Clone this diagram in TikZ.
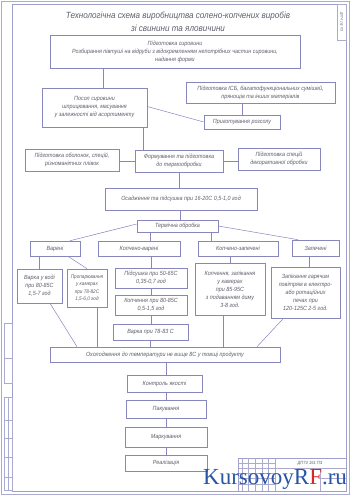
\documentclass[tikz,border=0pt]{standalone}
\usepackage{fontspec}
\setmainfont{Liberation Sans}
\newfontfamily\gost{Liberation Sans}[FakeStretch=0.9]
\newfontfamily\wmfont{Liberation Serif}
\definecolor{linec}{RGB}{135,135,190}
\definecolor{textc}{RGB}{95,95,110}
\definecolor{wmblue}{RGB}{40,85,165}
\definecolor{wmred}{RGB}{215,40,40}
\tikzset{
  box/.style={draw=linec, line width=0.6pt, align=center, inner sep=1pt,
    text=textc, font=\gost\itshape\fontsize{6}{8}\selectfont},
  smallbox/.style={box, font=\gost\itshape\fontsize{5.2}{7.5}\selectfont},
  conn/.style={draw=linec, line width=0.5pt},
  frame/.style={draw=linec!80, line width=0.6pt},
  thin/.style={draw=linec!70, line width=0.35pt}
}
\begin{document}
\begin{tikzpicture}[x=1pt,y=-1pt]
\useasboundingbox (0,0) rectangle (350,495);
\fill[white] (0,0) rectangle (350,495);
% sheet frame
\draw[frame] (12,4) rectangle (346,491);
\draw[thin] (1,1) rectangle (349,494);
% left strips
\draw[thin] (4,323) rectangle (12,383);
\draw[thin] (4,358) -- (12,358);
\draw[thin] (4,397) rectangle (12,490);
\draw[thin] (8,397) -- (8,490);
\foreach \yy in {420,438,457,477} {\draw[thin] (4,\yy) -- (12,\yy);}
% top right stamp
\draw[thin] (337,4) rectangle (346,40);
\node[rotate=-90, text=textc, font=\gost\itshape\fontsize{3.5}{4}\selectfont] (stamp) at (341.5,22) {ДП74 161 ПЗ};
% title
\node[text=textc, align=center, font=\gost\itshape\fontsize{9}{12.5}\selectfont] (title) at (178,21.5)
  {Технологічна схема виробництва солено-копчених виробів\\ зі свинини та яловичини};
% boxes
\node[box, minimum width=250, minimum height=33] (p1) at (175,51.5)
  {Підготовка сировини\\ Розбирання півтуші на відруби з відокремленням непотрібних частин сировини,\\ надання форми};
\node[box, minimum width=105, minimum height=39] (posol) at (94.5,107.5)
  {Посол сировини\\ шприцювання, масування\\ у залежності від асортименту};
\node[box, minimum width=149, minimum height=21] (isb) at (260.5,92.5)
  {Підготовка ІСБ, багатофункціональних сумішей,\\ прянощів та інших матеріалів};
\node[box, minimum width=76, minimum height=14] (rozsil) at (242,122) {Приготування розсолу};
\node[box, minimum width=94, minimum height=22] (obol) at (72,160)
  {Підготовка оболонок, спецій,\\ різноманітних плівок};
\node[box, minimum width=88, minimum height=22] (form) at (179,161)
  {Формування та підготовка\\ до термообробки};
\node[box, minimum width=82, minimum height=22] (spec) at (279,159)
  {Підготовка спецій\\ декоративної обробки};
\node[box, minimum width=152, minimum height=22] (osad) at (181,199)
  {Осадження та підсушка при 16-20С 0,5-1,0 год};
\node[box, minimum width=81, minimum height=12] (term) at (177.5,226) {Термічна обробка};
\node[box, minimum width=50, minimum height=15] (var) at (55,248.5) {Варені};
\node[box, minimum width=82, minimum height=15] (kv) at (139,248.5) {Копчено-варені};
\node[box, minimum width=80, minimum height=15] (kz) at (238,248.5) {Копчено-запечені};
\node[box, minimum width=47, minimum height=16] (zap) at (315.5,248) {Запечені};
\node[box, minimum width=45, minimum height=34] (vv) at (39.5,286)
  {Варка у воді\\ при 80-85С\\ 1,5-7 год};
\node[smallbox, minimum width=40, minimum height=38, inner sep=0.5pt] (prop) at (87,288)
  {Пропарювання\\ у камерах\\ при 78-82С\\ 1,5-6,0 год};
\node[box, minimum width=72, minimum height=20] (pids) at (151,278)
  {Підсушка при 50-65С\\ 0,35-0,7 год};
\node[box, minimum width=72, minimum height=20] (kopch) at (151,305)
  {Копчення при 80-85С\\ 0,5-1,5 год};
\node[box, minimum width=75, minimum height=16] (varka) at (150.5,332) {Варка при 78-83 С};
\node[box, minimum width=70, minimum height=52] (kzbox) at (230,289)
  {Копчення, запікання\\ у камерах\\ при 85-95С\\ з подаванням диму\\ 3-8 год.};
\node[box, minimum width=69, minimum height=51] (zapbox) at (305.5,292.5)
  {Запікання гарячим\\ повітрям в електро-\\ або ротаційних\\ печах при\\ 120-125С 2-5 год.};
\node[box, minimum width=230, minimum height=15] (cool) at (165,354.5)
  {Охолодження до температури не вище 8С у товщі продукту};
\node[box, minimum width=75, minimum height=17] (kontrol) at (164.5,383.5) {Контроль якості};
\node[box, minimum width=80, minimum height=18] (pak) at (166,409) {Пакування};
\node[box, minimum width=82, minimum height=20] (mark) at (166,437) {Маркування};
\node[box, minimum width=82, minimum height=16] (real) at (166,463) {Реалізація};
% connectors
\draw[conn] ([xshift=8.5pt]posol.north) -- ([xshift=8.5pt]posol.north |- p1.south);
\draw[conn] (rozsil.north) -- (rozsil.north |- isb.south);
\draw[conn] ([yshift=1pt]posol.east) -- (rozsil.west);
\draw[conn] ([xshift=-4pt]posol.south east) -- ([xshift=-4pt]posol.south east |- form.north);
\draw[conn] (obol.east |- form.west) -- (form.west);
\draw[conn] (spec.west |- form.east) -- (form.east);
\draw[conn] (form.south) -- (form.south |- osad.north);
\draw[conn] ([xshift=2.5pt]term.north) -- ([xshift=2.5pt]term.north |- osad.south);
\draw[conn] ([yshift=2pt]term.west) -- ([xshift=15pt]var.north);
\draw[conn] ([xshift=11pt]kv.north) -- ([xshift=11pt]kv.north |- term.south);
\draw[conn] ([xshift=-27pt]kz.north) -- ([xshift=-27pt]kz.north |- term.south);
\draw[conn] (term.east) -- ([xshift=-17.5pt]zap.north);
\draw[conn] (vv.north) -- (vv.north |- var.south);
\draw[conn] ([xshift=13pt]var.south) -- (prop.north);
\draw[conn] (pids.north) -- (pids.north |- kv.south);
\draw[conn] (pids.south) -- (kopch.north);
\draw[conn] (kopch.south) -- (kopch.south |- varka.north);
\draw[conn] (kzbox.north) -- (kzbox.north |- kz.south);
\draw[conn] ([xshift=4pt]zapbox.north) -- ([xshift=4pt]zapbox.north |- zap.south);
\draw[conn] ([xshift=10.5pt]vv.south) -- ([xshift=-88pt]cool.north);
\draw[conn] ([xshift=10pt]prop.south) -- ([xshift=10pt]prop.south |- cool.north);
\draw[conn] (varka.south) -- (varka.south |- cool.north);
\draw[conn] ([xshift=-7pt]kzbox.south) -- ([xshift=-7pt]kzbox.south |- cool.north);
\draw[conn] ([xshift=-22pt]zapbox.south) -- ([xshift=92pt]cool.north);
\draw[conn] ([xshift=2pt]kontrol.north) -- ([xshift=2pt]kontrol.north |- cool.south);
\draw[conn] (pak.north) -- (pak.north |- kontrol.south);
\draw[conn] (mark.north) -- (mark.north |- pak.south);
\draw[conn] (real.north) -- (real.north |- mark.south);
% title block
\draw[frame] (238,458) rectangle (346,491);
\foreach \xx in {242,248,255,262,268,275} {\draw[thin] (\xx,458) -- (\xx,491);}
\foreach \yy in {463,468,473,478,484} {\draw[thin] (238,\yy) -- (275,\yy);}
\draw[thin] (275,468) -- (346,468);
\draw[thin] (320,468) -- (320,491);
\draw[thin] (320,478) -- (346,478);
\node[text=textc, font=\gost\itshape\fontsize{4.5}{5}\selectfont] (tbcode) at (310,463) {ДП74 161 ПЗ};
% watermark
\node[anchor=base west, inner sep=0, font=\wmfont\fontsize{23}{23}\selectfont] (wm) at (203,484)
  {\textcolor{wmblue}{KursovoyR}\textcolor{wmred}{F}\textcolor{wmblue}{.ru}};
\end{tikzpicture}
\end{document}
